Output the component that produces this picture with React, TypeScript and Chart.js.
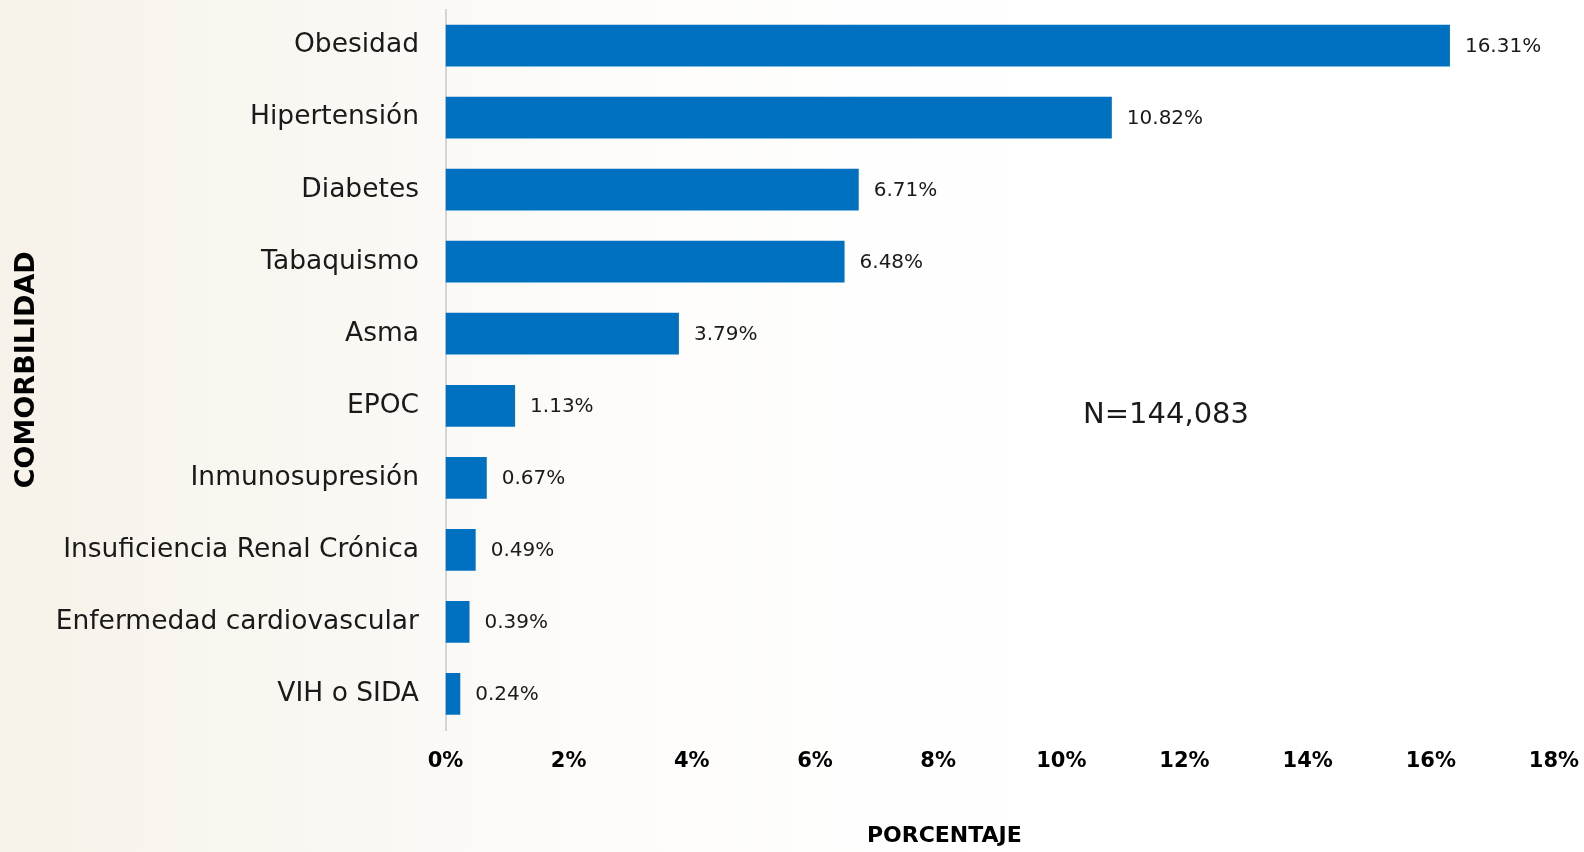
import { useEffect, useRef } from "react";
import { Chart, registerables } from "chart.js";

Chart.register(...registerables);

const categories = [
  "Obesidad",
  "Hipertensión",
  "Diabetes",
  "Tabaquismo",
  "Asma",
  "EPOC",
  "Inmunosupresión",
  "Insuficiencia Renal Crónica",
  "Enfermedad cardiovascular",
  "VIH o SIDA",
];
const values = [16.31, 10.82, 6.71, 6.48, 3.79, 1.13, 0.67, 0.49, 0.39, 0.24];
const tickValues = [0, 2, 4, 6, 8, 10, 12, 14, 16, 18];
const xTitle = "PORCENTAJE";
const yTitle = "COMORBILIDAD";
const sampleNote = "N=144,083";

const FONT = "'DejaVu Sans', 'Noto Sans', sans-serif";

export default function App() {
  const ref = useRef<HTMLCanvasElement>(null);

  useEffect(() => {
    const bgPlugin = {
      id: "bg",
      beforeDraw(chart: any) {
        const { ctx, width, height } = chart;
        ctx.save();
        ctx.fillStyle = "#ffffff";
        ctx.fillRect(0, 0, width, height);
        const g = ctx.createLinearGradient(0, 0, 1150, 0);
        g.addColorStop(0, "rgba(244,238,226,0.75)");
        g.addColorStop(0.35, "rgba(246,241,232,0.45)");
        g.addColorStop(1, "rgba(255,255,255,0)");
        ctx.fillStyle = g;
        ctx.fillRect(0, 0, width, height);
        ctx.restore();
      },
    };

    const labelPlugin = {
      id: "valueLabels",
      afterDatasetsDraw(chart: any) {
        const { ctx } = chart;
        const meta = chart.getDatasetMeta(0);
        ctx.save();
        ctx.font = `20px ${FONT}`;
        ctx.fillStyle = "#1a1a1a";
        ctx.textAlign = "left";
        ctx.textBaseline = "middle";
        meta.data.forEach((bar: any, i: number) => {
          ctx.fillText(`${values[i].toFixed(2)}%`, bar.x + 15, bar.y + 1);
        });
        const xs = chart.scales.x;
        const ys = chart.scales.y;
        ctx.font = `29px ${FONT}`;
        ctx.textAlign = "center";
        ctx.fillText(sampleNote, xs.getPixelForValue(11.7), ys.getPixelForValue(5) + 10);
        ctx.font = `bold 22px ${FONT}`;
        ctx.fillStyle = "#000000";
        ctx.fillText(xTitle, xs.getPixelForValue(8.1), chart.height - 16);
        ctx.restore();
      },
    };

    const chart = new Chart(ref.current as HTMLCanvasElement, {
      type: "bar",
      data: {
        labels: categories,
        datasets: [
          {
            data: values,
            backgroundColor: "#0070c0",
            borderWidth: 0,
            barPercentage: 0.58,
            categoryPercentage: 1,
          },
        ],
      },
      options: {
        indexAxis: "y",
        animation: false,
        responsive: false,
        devicePixelRatio: 1,
        layout: { padding: { left: 0, right: 30, top: 9.5, bottom: 0 } },
        plugins: {
          legend: { display: false },
          tooltip: { enabled: false },
        },
        scales: {
          x: {
            min: 0,
            max: 18,
            afterBuildTicks: (scale: any) => {
              scale.ticks = tickValues.map((v) => ({ value: v }));
            },
            afterFit: (scale: any) => {
              scale.height = 122;
              scale.paddingLeft = 0;
              scale.paddingRight = 0;
            },
            grid: { display: false, drawTicks: false },
            border: { display: false },
            ticks: {
              padding: 19,
              color: "#000000",
              font: { family: FONT, size: 21, weight: "bold" },
              callback: (v: any) => `${v}%`,
              maxRotation: 0,
              autoSkip: false,
            },
          },
          y: {
            afterFit: (scale: any) => {
              scale.width = 445.5;
              scale.paddingTop = 0;
              scale.paddingBottom = 0;
            },
            grid: { display: false, drawTicks: false },
            border: { display: true, color: "#d4d4d4", width: 2 },
            ticks: {
              padding: 26.5,
              color: "#1a1a1a",
              font: { family: FONT, size: 26.5 },
              autoSkip: false,
            },
            title: {
              display: true,
              text: yTitle,
              color: "#000000",
              font: { family: FONT, size: 27, weight: "bold" },
              padding: { top: 11, bottom: 0 },
            },
          },
        },
      },
      plugins: [bgPlugin, labelPlugin],
    });

    return () => chart.destroy();
  }, []);

  return (
    <div style={{ position: "fixed", left: 0, top: 0, width: 1584, height: 852 }}>
      <canvas ref={ref} width={1584} height={852} style={{ width: 1584, height: 852, display: "block" }} />
    </div>
  );
}
